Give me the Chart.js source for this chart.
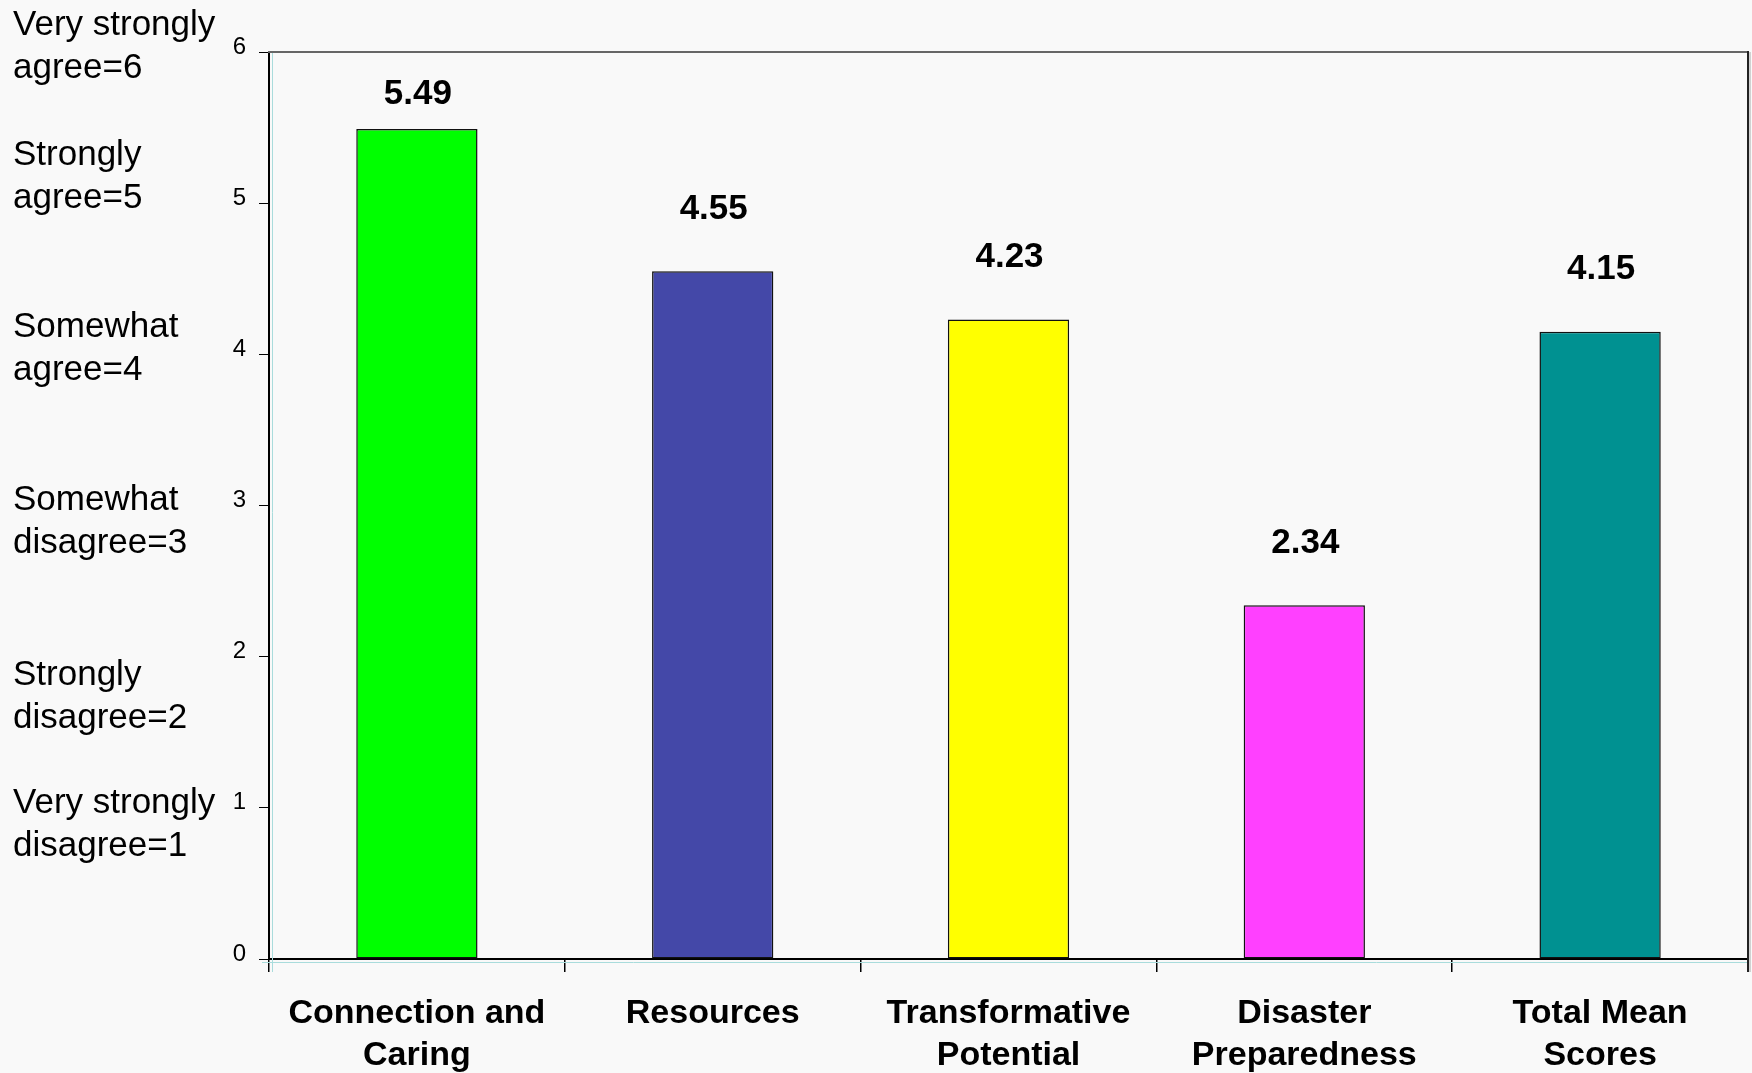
<!DOCTYPE html>
<html>
<head>
<meta charset="utf-8">
<script src="https://cdn.jsdelivr.net/npm/chart.js@4.4.1/dist/chart.umd.min.js"></script>
<style>
  html, body { margin: 0; padding: 0; background: #f9f9f9; }
  #wrap { position: relative; width: 1752px; height: 1073px; }
</style>
</head>
<body>
<div id="wrap"><canvas id="c"></canvas></div>
<script>
// ---- data ----
const categories = [["Connection and", "Caring"], ["Resources"], ["Transformative", "Potential"], ["Disaster", "Preparedness"], ["Total Mean", "Scores"]];
const meanScores = [5.49, 4.55, 4.23, 2.34, 4.15];
const barColors = ["#00ff00", "#4448a8", "#ffff00", "#ff40ff", "#009191"];
const yTickValues = [0, 1, 2, 3, 4, 5, 6];
const scaleDescriptions = [
  ["Very strongly", "agree=6"],
  ["Strongly", "agree=5"],
  ["Somewhat", "agree=4"],
  ["Somewhat", "disagree=3"],
  ["Strongly", "disagree=2"],
  ["Very strongly", "disagree=1"]
];

// ---- layout constants (not data) ----
const descLineCenters = [25, 155, 327, 500, 675, 803];

const FONT = "'Liberation Sans', Arial, sans-serif";

const decorPlugin = {
  id: 'decor',
  beforeDraw(chart) {
    const ctx = chart.ctx;
    ctx.save();
    ctx.fillStyle = '#f9f9f9';
    ctx.fillRect(0, 0, chart.width, chart.height);
    ctx.restore();
  },
  afterDraw(chart) {
    const ctx = chart.ctx;
    const a = chart.chartArea;
    ctx.save();
    // light cyan shadow lines
    ctx.strokeStyle = '#a9dcdc';
    ctx.lineWidth = 1;
    ctx.beginPath();
    ctx.moveTo(a.left + 3.5, a.top + 1);
    ctx.lineTo(a.left + 3.5, a.bottom + 13);
    ctx.moveTo(a.left - 7, a.bottom + 3.5);
    ctx.lineTo(a.right, a.bottom + 3.5);
    ctx.stroke();
    // top border
    ctx.strokeStyle = '#666666';
    ctx.lineWidth = 2;
    ctx.beginPath();
    ctx.moveTo(a.left - 1, a.top);
    ctx.lineTo(a.right, a.top);
    ctx.stroke();
    // right border
    ctx.strokeStyle = '#222222';
    ctx.beginPath();
    ctx.moveTo(a.right, a.top - 1);
    ctx.lineTo(a.right, a.bottom + 13);
    ctx.stroke();
    ctx.strokeStyle = '#aaaaaa';
    ctx.lineWidth = 1;
    ctx.beginPath();
    ctx.moveTo(a.right + 2, a.top);
    ctx.lineTo(a.right + 2, a.bottom + 13);
    ctx.stroke();

    // value labels
    const meta = chart.getDatasetMeta(0);
    ctx.fillStyle = '#000';
    ctx.font = "bold 35px " + FONT;
    ctx.textAlign = 'center';
    ctx.textBaseline = 'middle';
    meta.data.forEach((bar, i) => {
      const v = chart.data.datasets[0].data[i];
      const y = Math.max(bar.y - 62, a.top + 42);
      ctx.fillText(v.toFixed(2), bar.x + 1, y);
    });

    // scale descriptions on the left
    ctx.font = "35px " + FONT;
    ctx.textAlign = 'left';
    scaleDescriptions.forEach((lines, i) => {
      lines.forEach((t, j) => {
        ctx.fillText(t, 13, descLineCenters[i] + j * 43);
      });
    });
    ctx.restore();
  }
};

new Chart(document.getElementById('c'), {
  type: 'bar',
  data: {
    labels: categories,
    datasets: [{
      data: meanScores,
      backgroundColor: barColors,
      borderColor: '#111111',
      borderWidth: 1.5,
      borderSkipped: false,
      barPercentage: 0.41,
      categoryPercentage: 1.0
    }]
  },
  options: {
    responsive: true,
    maintainAspectRatio: false,
    animation: false,
    devicePixelRatio: 1,
    layout: { padding: { left: 0, top: 52, right: 4, bottom: 0 } },
    plugins: {
      legend: { display: false },
      tooltip: { enabled: false }
    },
    scales: {
      x: {
        grid: { display: true, drawOnChartArea: false, drawTicks: true, tickLength: 13, color: '#000', offset: true, lineWidth: 1.5 },
        border: { display: true, color: '#000', width: 2 },
        ticks: {
          color: '#000',
          font: { family: FONT, size: 34, weight: 'bold', lineHeight: 1.25 },
          padding: 20,
          maxRotation: 0,
          autoSkip: false
        },
        afterFit(s) { s.height = 114; }
      },
      y: {
        min: 0,
        max: 6,
        afterBuildTicks(s) { s.ticks = yTickValues.map(v => ({ value: v })); },
        grid: { display: true, drawOnChartArea: false, drawTicks: true, tickLength: 10, color: '#000', lineWidth: 1 },
        border: { display: true, color: '#000', width: 2 },
        ticks: {
          color: '#000',
          font: { family: FONT, size: 24 },
          padding: 13,
          labelOffset: -5
        },
        afterFit(s) { s.width = 269; }
      }
    }
  },
  plugins: [decorPlugin]
});
</script>
</body>
</html>
